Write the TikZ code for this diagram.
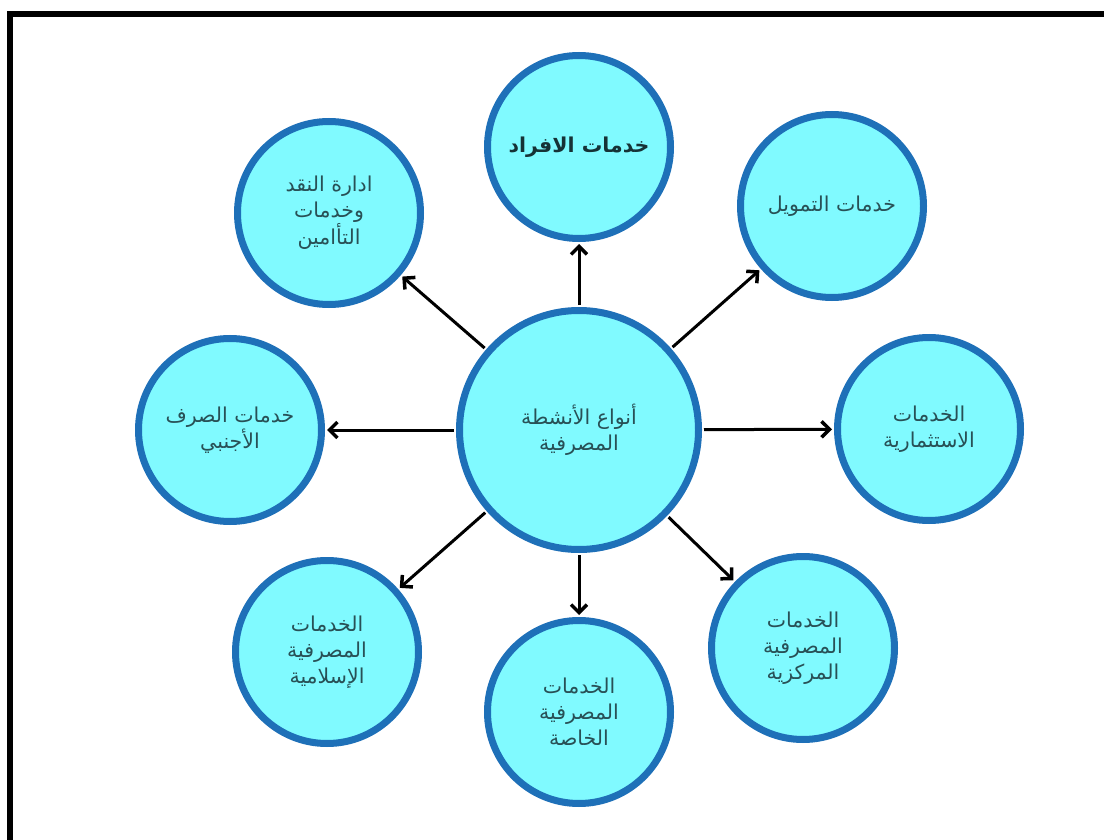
\documentclass[tikz,border=0pt]{standalone}
\usepackage{fontspec}
\usetikzlibrary{arrows.meta}
\newfontfamily\arabicfont[Script=Arabic]{DejaVu Sans}
\TeXXeTstate=1
\newcommand\arl[1]{\beginR #1\endR}
\definecolor{cfill}{RGB}{128,250,255}
\definecolor{cring}{RGB}{30,112,184}
\definecolor{ctext}{RGB}{40,80,86}
\definecolor{cbold}{RGB}{22,50,54}

\begin{document}
\begin{tikzpicture}[x=1pt,y=-1pt,
  bubble/.style={circle, draw=cring, fill=cfill, line width=7pt,
    minimum size=183pt, inner sep=0pt, align=center,
    font=\arabicfont\fontsize{20.5}{26}\selectfont, text=ctext},
  hub/.style={bubble, minimum size=239pt},
  link/.style={line width=3pt,
    -{Straight Barb[length=8pt,width=16pt,line width=3.5pt]},
    shorten <=2pt, shorten >=2pt}]
\useasboundingbox (0,0) rectangle (1104,840);

% frame: top and left edges of the enclosing box
\coordinate (fbl) at (10,860);
\coordinate (ftl) at (10,14);
\coordinate (ftr) at (1120,14);
\draw[line width=6pt] (fbl) -- (ftl) -- (ftr);

% hub
\node[hub] (c) at (579,430) {\arl{أنواع الأنشطة}\\\arl{المصرفية}};

% surrounding services
\node[bubble, text=cbold, font=\arabicfont\bfseries\fontsize{20.5}{26}\selectfont]
  (t) at (579,147) {\arl{خدمات الافراد}};
\node[bubble] (tr) at (832,206) {\arl{خدمات التمويل}};
\node[bubble] (r)  at (929,429) {\arl{الخدمات}\\\arl{الاستثمارية}};
\node[bubble] (br) at (803,648) {\arl{الخدمات}\\\arl{المصرفية}\\\arl{المركزية}};
\node[bubble] (b)  at (579,712) {\arl{الخدمات}\\\arl{المصرفية}\\\arl{الخاصة}};
\node[bubble] (bl) at (327,652) {\arl{الخدمات}\\\arl{المصرفية}\\\arl{الإسلامية}};
\node[bubble] (l)  at (230,430) {\arl{خدمات الصرف}\\\arl{الأجنبي}};
\node[bubble] (tl) at (329,213) {\arl{ادارة النقد}\\\arl{وخدمات}\\\arl{التأامين}};

% connectors
\foreach \n in {t,tr,r,br,b,bl,l,tl}
  \draw[link] (c) -- (\n);
\end{tikzpicture}
\end{document}
